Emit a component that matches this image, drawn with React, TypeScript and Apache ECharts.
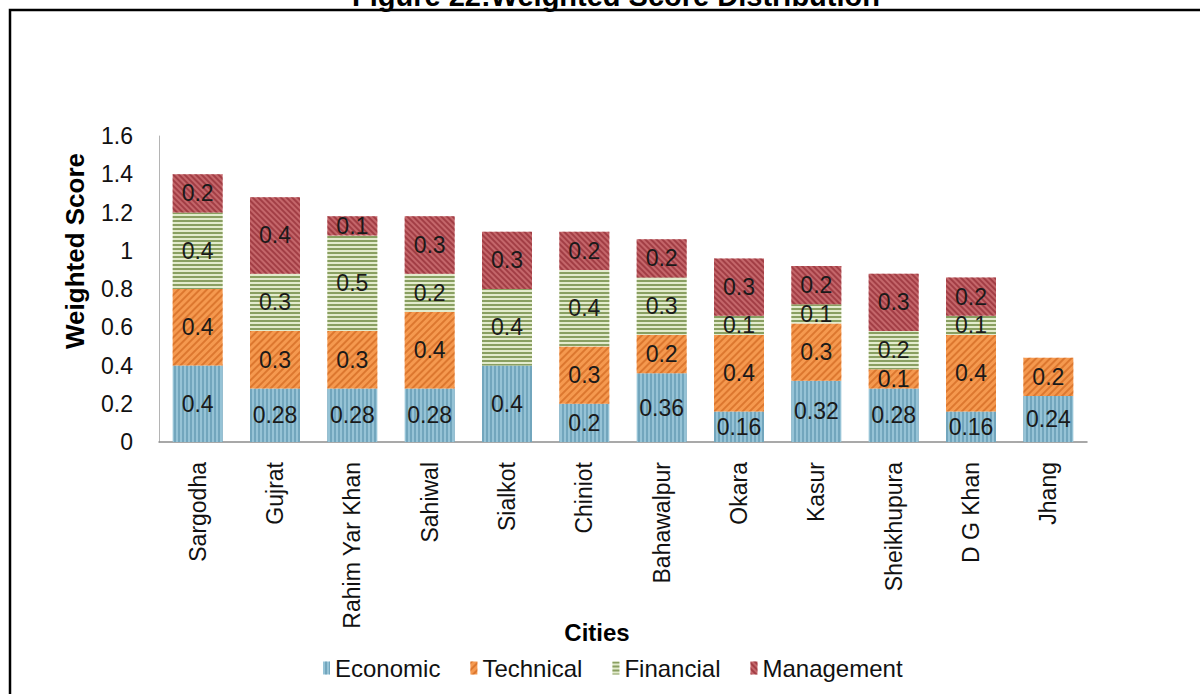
import React, { useEffect, useRef } from "react";
import * as echarts from "echarts";

const FONT = "'Liberation Sans', Arial, Helvetica, sans-serif";

const titleText = "Figure 22:Weighted Score Distribution";
const xAxisTitle = "Cities";
const yAxisTitle = "Weighted Score";

const cities = [
  "Sargodha",
  "Gujrat",
  "Rahim Yar Khan",
  "Sahiwal",
  "Sialkot",
  "Chiniot",
  "Bahawalpur",
  "Okara",
  "Kasur",
  "Sheikhupura",
  "D G Khan",
  "Jhang",
];

const economic = [0.4, 0.28, 0.28, 0.28, 0.4, 0.2, 0.36, 0.16, 0.32, 0.28, 0.16, 0.24];
const technical = [0.4, 0.3, 0.3, 0.4, 0, 0.3, 0.2, 0.4, 0.3, 0.1, 0.4, 0.2];
const financial = [0.4, 0.3, 0.5, 0.2, 0.4, 0.4, 0.3, 0.1, 0.1, 0.2, 0.1, 0];
const management = [0.2, 0.4, 0.1, 0.3, 0.3, 0.2, 0.2, 0.3, 0.2, 0.3, 0.2, 0];

const seriesNames = ["Economic", "Technical", "Financial", "Management"];

const yMin = 0;
const yMax = 1.6;
const yStep = 0.2;

export default function App() {
  const ref = useRef<HTMLDivElement>(null);

  useEffect(() => {
    if (!ref.current) return;
    const chart = echarts.init(ref.current, undefined, { renderer: "svg" });

    const label = {
      show: true,
      position: "inside",
      fontSize: 23,
      fontFamily: FONT,
      color: "#1a1a1a",
      formatter: (p: any) => (p.value === 0 ? "" : String(p.value)),
    };

    const styles = [
      {
        color: "#96C3D6",
        decal: {
          symbol: "rect",
          symbolSize: 1,
          color: "rgba(70,130,160,0.45)",
          dashArrayX: [1, 0],
          dashArrayY: [2, 2],
          rotation: Math.PI / 2,
        },
      },
      {
        color: "#F5994F",
        decal: {
          symbol: "rect",
          symbolSize: 1,
          color: "rgba(200,90,20,0.55)",
          dashArrayX: [1, 0],
          dashArrayY: [2, 3],
          rotation: -Math.PI / 4,
        },
      },
      {
        color: "#E3EBCD",
        decal: {
          symbol: "rect",
          symbolSize: 1,
          color: "rgba(115,140,70,0.8)",
          dashArrayX: [1, 0],
          dashArrayY: [2, 2],
          rotation: 0,
        },
      },
      {
        color: "#C4666A",
        decal: {
          symbol: "rect",
          symbolSize: 1,
          color: "rgba(140,35,45,0.6)",
          dashArrayX: [1, 0],
          dashArrayY: [2, 2],
          rotation: Math.PI / 4,
        },
      },
    ];

    const dataSets = [economic, technical, financial, management];

    const option: any = {
      animation: false,
      backgroundColor: "#ffffff",
      aria: { enabled: true, decal: { show: true } },
      grid: { left: 159, top: 136, width: 928, height: 306, containLabel: false },
      legend: {
        data: seriesNames,
        left: 318,
        top: 651,
        icon: "rect",
        itemWidth: 7,
        itemHeight: 13,
        itemGap: 30,
        textStyle: { fontSize: 24, fontFamily: FONT, color: "#111" },
      },
      xAxis: {
        type: "category",
        data: cities,
        axisLine: { show: true, lineStyle: { color: "#8c8c8c", width: 1.5 } },
        axisTick: { show: false },
        axisLabel: {
          rotate: 90,
          interval: 0,
          margin: 20,
          fontSize: 23,
          fontFamily: FONT,
          color: "#111",
        },
      },
      yAxis: {
        type: "value",
        min: yMin,
        max: yMax,
        interval: yStep,
        axisLine: { show: true, lineStyle: { color: "#b4b4b4", width: 1 } },
        axisTick: { show: false },
        splitLine: { show: false },
        axisLabel: {
          margin: 26,
          fontSize: 23,
          fontFamily: FONT,
          color: "#111",
        },
      },
      series: seriesNames.map((name, i) => ({
        name,
        type: "bar",
        stack: "total",
        barWidth: 50,
        data: dataSets[i],
        itemStyle: styles[i],
        label,
        emphasis: { disabled: true },
      })),
      graphic: [
        {
          type: "rect",
          shape: { x: 10, y: 10, width: 1210, height: 720 },
          style: { fill: "none", stroke: "#000", lineWidth: 2.5 },
          silent: true,
        },
        {
          type: "text",
          x: 616,
          y: 10,
          style: {
            text: titleText,
            align: "center",
            verticalAlign: "bottom",
            textAlign: "center",
            textVerticalAlign: "bottom",
            font: `bold 29px ${FONT}`,
            fill: "#000",
          },
        },
        {
          type: "text",
          x: 75,
          y: 251,
          rotation: Math.PI / 2,
          style: {
            text: yAxisTitle,
            align: "center",
            verticalAlign: "middle",
            textAlign: "center",
            textVerticalAlign: "middle",
            font: `bold 26px ${FONT}`,
            fill: "#000",
          },
        },
        {
          type: "text",
          x: 597,
          y: 632,
          style: {
            text: xAxisTitle,
            align: "center",
            verticalAlign: "middle",
            textAlign: "center",
            textVerticalAlign: "middle",
            font: `bold 24px ${FONT}`,
            fill: "#000",
          },
        },
      ],
    };

    chart.setOption(option);
    return () => chart.dispose();
  }, []);

  return (
    <div
      ref={ref}
      style={{ position: "fixed", left: 0, top: 0, width: 1200, height: 694, background: "#fff" }}
    />
  );
}
